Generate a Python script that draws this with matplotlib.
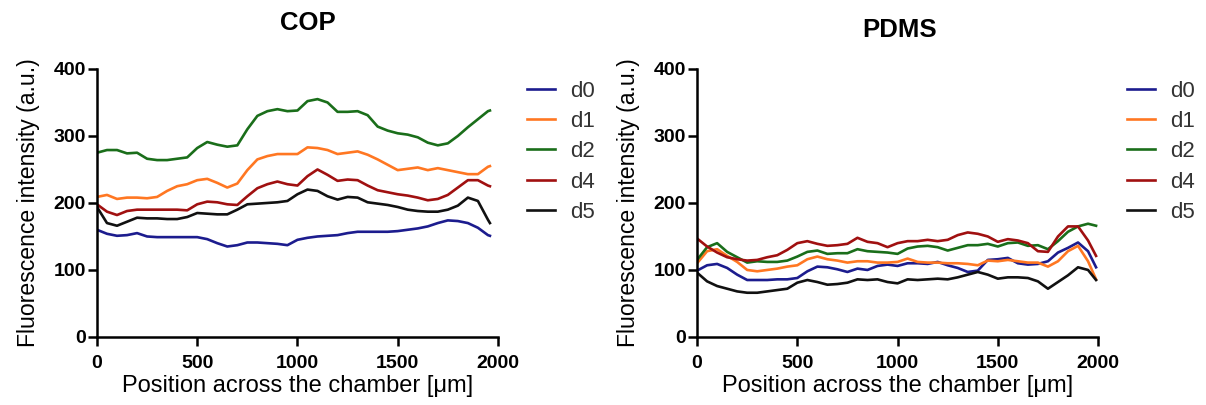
import numpy as np
import matplotlib
matplotlib.use("Agg")
import matplotlib.pyplot as plt

plt.rcParams['font.family'] = ['Liberation Sans', 'DejaVu Sans']

# Positions (µm)
x_cop = [0, 50, 100, 150, 200, 250, 300, 350, 400, 450, 500, 550, 600, 650, 700,
         750, 800, 850, 900, 950, 1000, 1050, 1100, 1150, 1200, 1250, 1300, 1350,
         1400, 1450, 1500, 1550, 1600, 1650, 1700, 1750, 1800, 1850, 1900, 1950, 1960]
x_pdms = [0, 50, 100, 150, 200, 250, 300, 350, 400, 450, 500, 550, 600, 650, 700,
          750, 800, 850, 900, 950, 1000, 1050, 1100, 1150, 1200, 1250, 1300, 1350,
          1400, 1450, 1500, 1550, 1600, 1650, 1700, 1750, 1800, 1850, 1900, 1950, 1990]

series_names = ["d0", "d1", "d2", "d4", "d5"]

# COP
cop_d0 = [160, 154, 151, 152, 155, 150, 149, 149, 149, 149, 149, 146, 140, 135, 137,
          141, 141, 140, 139, 137, 145, 148, 150, 151, 152, 155, 157, 157, 157, 157,
          158, 160, 162, 165, 170, 174, 173, 170, 163, 152, 151]
cop_d1 = [209, 212, 206, 208, 208, 207, 209, 218, 225, 228, 234, 236, 230, 223, 229,
          249, 265, 270, 273, 273, 273, 283, 282, 279, 273, 275, 277, 272, 265, 257,
          249, 251, 253, 249, 252, 249, 246, 243, 243, 254, 255]
cop_d2 = [275, 279, 279, 274, 275, 266, 264, 264, 266, 268, 282, 291, 287, 284, 286,
          310, 330, 337, 340, 337, 338, 352, 355, 350, 336, 336, 337, 331, 314, 308,
          304, 302, 298, 290, 286, 289, 300, 313, 325, 337, 338]
cop_d4 = [198, 187, 182, 188, 190, 190, 190, 190, 190, 189, 198, 202, 201, 198, 197,
          210, 222, 228, 232, 228, 226, 240, 250, 242, 233, 235, 234, 226, 219, 216,
          213, 211, 208, 204, 206, 212, 223, 234, 234, 226, 225]
cop_d5 = [194, 170, 166, 172, 178, 177, 177, 176, 176, 179, 185, 184, 183, 183, 190,
          198, 199, 200, 201, 203, 213, 220, 218, 210, 205, 209, 208, 201, 199, 197,
          194, 190, 188, 187, 187, 190, 196, 208, 203, 175, 170]

# PDMS
pdms_d0 = [99, 107, 109, 103, 93, 85, 85, 85, 86, 86, 88, 98, 105, 104, 101,
           97, 102, 100, 106, 108, 106, 110, 110, 109, 112, 107, 103, 97, 99, 115,
           116, 118, 110, 108, 109, 113, 126, 133, 141, 128, 104]
pdms_d1 = [110, 128, 131, 121, 112, 100, 98, 100, 102, 105, 107, 116, 120, 116, 114,
           111, 113, 113, 111, 111, 112, 117, 112, 111, 111, 110, 110, 109, 107, 114,
           113, 115, 113, 111, 111, 105, 113, 128, 136, 113, 86]
pdms_d2 = [115, 134, 140, 127, 119, 111, 113, 112, 112, 114, 120, 127, 129, 124, 125,
           125, 131, 128, 127, 126, 124, 132, 135, 136, 134, 129, 133, 137, 137, 139,
           135, 140, 141, 136, 137, 131, 143, 157, 165, 169, 166]
pdms_d4 = [147, 135, 126, 119, 116, 114, 115, 119, 122, 130, 140, 143, 139, 136, 137,
           139, 148, 142, 140, 134, 140, 143, 143, 145, 143, 145, 152, 156, 154, 150,
           142, 146, 144, 140, 128, 127, 150, 165, 165, 144, 121]
pdms_d5 = [96, 83, 76, 72, 68, 66, 66, 68, 70, 72, 81, 85, 82, 78, 79,
           81, 86, 85, 86, 82, 80, 86, 85, 86, 87, 86, 89, 93, 97, 93,
           87, 89, 89, 88, 83, 72, 82, 92, 104, 100, 85]

colors = ["#1c1c8e", "#ff7722", "#1a6e1a", "#a01010", "#111111"]
x_ticks = [0, 500, 1000, 1500, 2000]
y_ticks = [0, 100, 200, 300, 400]

fig = plt.figure(figsize=(12.06, 4.05), dpi=100)
ax1 = fig.add_axes([0.0804, 0.168, 0.3325, 0.6617])
ax2 = fig.add_axes([0.578, 0.168, 0.3325, 0.6617])

panels = [
    (ax1, "COP", x_cop, [cop_d0, cop_d1, cop_d2, cop_d4, cop_d5], 1 - 23 / 405, 308 / 1206),
    (ax2, "PDMS", x_pdms, [pdms_d0, pdms_d1, pdms_d2, pdms_d4, pdms_d5], 1 - 30 / 405, 900 / 1206),
]

for ax, title, xs, ys, ty, tx in panels:
    for name, col, y in zip(series_names, colors, ys):
        ax.plot(xs, y, color=col, lw=1.9, label=name)
    ax.set_xlim(0, 2000)
    ax.set_ylim(0, 400)
    ax.set_xticks(x_ticks)
    ax.set_yticks(y_ticks)
    for s in ["top", "right"]:
        ax.spines[s].set_visible(False)
    for s in ["left", "bottom"]:
        ax.spines[s].set_linewidth(1.8)
        ax.spines[s].set_color("black")
    ax.tick_params(direction="out", length=6.5, width=1.8, labelsize=14)
    ax.tick_params(axis="x", pad=6.5)
    ax.tick_params(axis="y", pad=1.5)
    for lbl in ax.get_xticklabels() + ax.get_yticklabels():
        lbl.set_fontweight("bold")
    ax.set_xlabel("Position across the chamber [\u03bcm]", fontsize=17, labelpad=2)
    ax.set_ylabel("Fluorescence intensity (a.u.)", fontsize=16.6, labelpad=10)
    fig.text(tx, ty, title, ha="center", va="center",
             fontsize=18.5, fontweight="bold")
    leg = ax.legend(loc="upper left", bbox_to_anchor=(1.05, 0.99), frameon=False,
                    fontsize=16, handlelength=1.26, handletextpad=0.68,
                    labelspacing=0.42, borderaxespad=0)
    for t in leg.get_texts():
        t.set_color("#333333")

fig.savefig("out.png", dpi=100)
